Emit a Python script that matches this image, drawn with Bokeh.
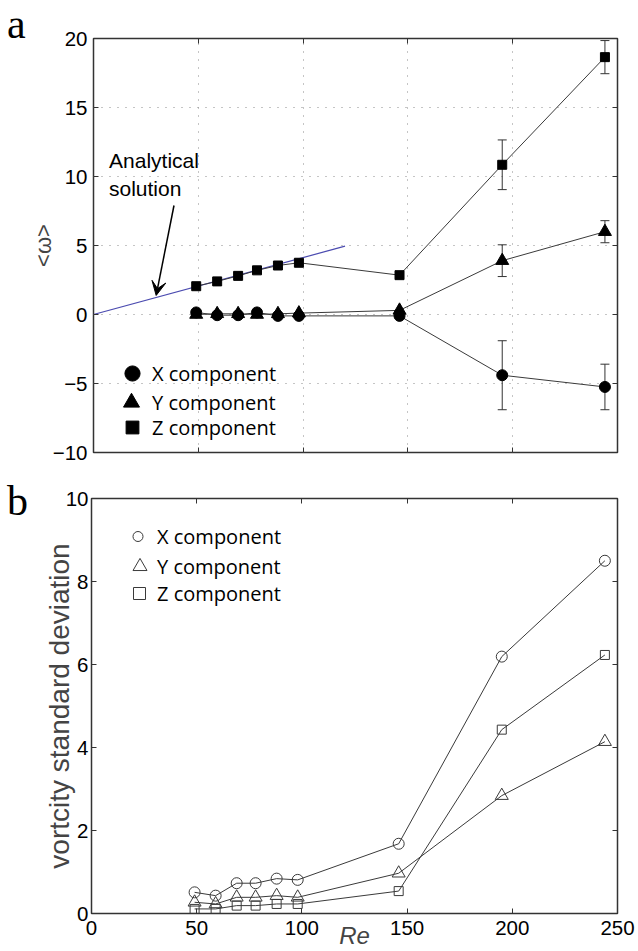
from bokeh.plotting import figure
from bokeh.models import (LinearAxis, FixedTicker, Label, Arrow, VeeHead, Whisker,
                          TeeHead, ColumnDataSource, Legend, LegendItem, Div)
from bokeh.layouts import column, row
from bokeh.embed import file_html
from bokeh.resources import INLINE

# ---------------- data ----------------
re_vals = [49, 59, 69, 78, 88, 98, 146, 195, 244]

mean_x = [0.15, -0.05, -0.05, 0.15, -0.1, -0.1, -0.1, -4.4, -5.25]
mean_y = [0.0, 0.05, 0.05, 0.0, 0.05, 0.1, 0.3, 3.9, 6.0]
mean_z = [2.05, 2.4, 2.8, 3.2, 3.55, 3.75, 2.85, 10.85, 18.65]

err_x = [0, 0, 0, 0, 0, 0, 0, 2.5, 1.65]
err_y = [0, 0, 0, 0, 0, 0, 0, 1.15, 0.8]
err_z = [0, 0, 0, 0, 0, 0, 0, 1.8, 1.2]

analytic_re = [0, 120]
analytic_w = [0, 4.95]

std_x = [0.51, 0.43, 0.73, 0.73, 0.84, 0.81, 1.68, 6.19, 8.5]
std_y = [0.27, 0.23, 0.39, 0.39, 0.43, 0.39, 0.97, 2.84, 4.14]
std_z = [0.11, 0.11, 0.19, 0.19, 0.23, 0.23, 0.54, 4.43, 6.23]

x_ticks = [0, 50, 100, 150, 200, 250]
top_y_ticks = [-10, -5, 0, 5, 10, 15, 20]
bottom_y_ticks = [0, 2, 4, 6, 8, 10]
legend_labels = ["X component", "Y component", "Z component"]

# ---------------- style ----------------
INK = "#333333"
LINE = "#3a3a3a"
TICK_FONT = "Liberation Sans"
TICK_SIZE = "20.5px"
LEG_FONT = "Open Sans"
LEG_SIZE = "20px"


def frame_style(p):
    p.outline_line_color = INK
    p.outline_line_width = 1.5
    p.outline_line_alpha = 1.0
    p.background_fill_color = "white"
    p.border_fill_color = "white"


def style_axis(ax, ticks, show_labels, standoff=5):
    ax.ticker = FixedTicker(ticks=ticks)
    ax.axis_line_color = None
    ax.major_tick_in = 5
    ax.major_tick_out = 0
    ax.major_tick_line_color = INK
    ax.major_tick_line_width = 1
    ax.minor_tick_line_color = None
    if show_labels:
        ax.major_label_text_font = TICK_FONT
        ax.major_label_text_font_size = TICK_SIZE
        ax.major_label_text_color = "black"
        ax.major_label_standoff = standoff
    else:
        ax.major_label_overrides = {t: "" for t in ticks}
        ax.major_label_text_font_size = "0px"
        ax.major_label_standoff = 0


def add_legend_item(p, renderer, label, gw, loc, standoff):
    leg = Legend(items=[LegendItem(label=label, renderers=[renderer])],
                 location=loc, glyph_width=gw, glyph_height=40,
                 label_standoff=standoff, padding=0, margin=0, spacing=0,
                 border_line_color=None, background_fill_alpha=0,
                 label_text_font=LEG_FONT, label_text_font_size=LEG_SIZE,
                 label_text_color="black", label_height=20)
    p.add_layout(leg)


def letter_panel(letter, height, top_margin):
    html = ('<div style="font-family: \'Liberation Serif\', serif; font-size: 42px; '
            'line-height: 42px; color: black; margin: %dpx 0 0 7px; padding: 0;">%s</div>'
            % (top_margin, letter))
    return Div(text=html, width=27, height=height, margin=0)


# ---------------- panel a ----------------
top = figure(width=611, height=470, x_range=(0, 250), y_range=(-10, 20),
             min_border_left=64, min_border_right=21, min_border_top=38,
             min_border_bottom=18, output_backend="svg", toolbar_location=None)
frame_style(top)
top_x = top.xaxis[0]
top_y = top.yaxis[0]
style_axis(top_x, x_ticks, False)
style_axis(top_y, top_y_ticks, True, standoff=6)
r_ax = LinearAxis()
style_axis(r_ax, top_y_ticks, False)
top.add_layout(r_ax, "right")
a_ax = LinearAxis()
style_axis(a_ax, x_ticks, False)
top.add_layout(a_ax, "above")

top_y.axis_label = "<ω>"
top_y.axis_label_text_font = TICK_FONT
top_y.axis_label_text_font_size = "22px"
top_y.axis_label_text_font_style = "normal"
top_y.axis_label_standoff = -6

for g in (top.xgrid[0], top.ygrid[0]):
    g.grid_line_color = "#8a8a8a"
    g.grid_line_dash = "1 7"
    g.grid_line_width = 1
top.xgrid[0].ticker = FixedTicker(ticks=x_ticks)
top.ygrid[0].ticker = FixedTicker(ticks=top_y_ticks)

top.line(analytic_re, analytic_w, line_color="#4b4bb0", line_width=1.2)

src_top = ColumnDataSource(dict(re=re_vals, mx=mean_x, my=mean_y, mz=mean_z))
top.line("re", "mx", source=src_top, line_color=LINE, line_width=1)
top.line("re", "my", source=src_top, line_color=LINE, line_width=1)
top.line("re", "mz", source=src_top, line_color=LINE, line_width=1)

for vals, errs in ((mean_x, err_x), (mean_y, err_y), (mean_z, err_z)):
    idx = [i for i, e in enumerate(errs) if e > 0]
    esrc = ColumnDataSource(dict(
        base=[re_vals[i] for i in idx],
        upper=[vals[i] + errs[i] for i in idx],
        lower=[vals[i] - errs[i] for i in idx]))
    top.add_layout(Whisker(base="base", upper="upper", lower="lower", source=esrc,
                           line_color=INK, line_width=1,
                           upper_head=TeeHead(size=9, line_color=INK, line_width=1),
                           lower_head=TeeHead(size=9, line_color=INK, line_width=1)))

sx = top.scatter("re", "mx", source=src_top, marker="circle", size=11,
                 fill_color="black", line_color="black")
sy = top.scatter("re", "my", source=src_top, marker="triangle", size=13,
                 fill_color="black", line_color="black")
sz = top.scatter("re", "mz", source=src_top, marker="square", size=9,
                 fill_color="black", line_color="black")

add_legend_item(top, sx, legend_labels[0], 38, (20, 59), 1)
add_legend_item(top, sy, legend_labels[1], 42, (17, 30), 0)
add_legend_item(top, sz, legend_labels[2], 32, (23, 5), 4)

top.add_layout(Label(x=7.4, y=11.13, text="Analytical", text_font=TICK_FONT,
                     text_font_size="21px", text_baseline="alphabetic",
                     text_color="black"))
top.add_layout(Label(x=7.4, y=9.1, text="solution", text_font=TICK_FONT,
                     text_font_size="21px", text_baseline="alphabetic",
                     text_color="black"))
top.add_layout(Arrow(end=VeeHead(size=14, fill_color="black", line_color="black"),
                     x_start=38.4, y_start=7.9, x_end=29.9, y_end=1.38,
                     line_color="black", line_width=1.5))

# ---------------- panel b ----------------
bot = figure(width=611, height=481, x_range=(0, 250), y_range=(0, 10),
             min_border_left=64, min_border_right=21, min_border_top=28,
             min_border_bottom=38, output_backend="svg", toolbar_location=None)
frame_style(bot)
bot_x = bot.xaxis[0]
bot_y = bot.yaxis[0]
style_axis(bot_x, x_ticks, True, standoff=7)
style_axis(bot_y, bottom_y_ticks, True, standoff=3)
r_ax2 = LinearAxis()
style_axis(r_ax2, bottom_y_ticks, False)
bot.add_layout(r_ax2, "right")
a_ax2 = LinearAxis()
style_axis(a_ax2, x_ticks, False)
bot.add_layout(a_ax2, "above")
bot.xgrid[0].visible = False
bot.ygrid[0].visible = False

bot_y.axis_label = "vortcity standard deviation"
bot_y.axis_label_text_font = TICK_FONT
bot_y.axis_label_text_font_size = "28px"
bot_y.axis_label_text_font_style = "normal"
bot_y.axis_label_standoff = -12

bot_x.axis_label = "Re"
bot_x.axis_label_text_font = TICK_FONT
bot_x.axis_label_text_font_size = "24px"
bot_x.axis_label_text_font_style = "italic"
bot_x.axis_label_standoff = -16

src_bot = ColumnDataSource(dict(re=re_vals, sx=std_x, sy=std_y, sz=std_z))
bot.line("re", "sx", source=src_bot, line_color=LINE, line_width=1)
bot.line("re", "sy", source=src_bot, line_color=LINE, line_width=1)
bot.line("re", "sz", source=src_bot, line_color=LINE, line_width=1)
bx = bot.scatter("re", "sx", source=src_bot, marker="circle", size=11,
                 fill_color=None, line_color=LINE, line_width=1)
by = bot.scatter("re", "sy", source=src_bot, marker="triangle", size=13,
                 fill_color=None, line_color=LINE, line_width=1)
bz = bot.scatter("re", "sz", source=src_bot, marker="square", size=9,
                 fill_color=None, line_color=LINE, line_width=1)

add_legend_item(bot, bx, legend_labels[0], 25, (34, 357), 7)
add_legend_item(bot, by, legend_labels[1], 35, (31, 327), 0)
add_legend_item(bot, bz, legend_labels[2], 30, (33, 300), 3)

layout = column(row(letter_panel("a", 470, 3), top),
                row(letter_panel("b", 481, 10), bot))
open("out.html", "w").write(file_html(layout, INLINE))
